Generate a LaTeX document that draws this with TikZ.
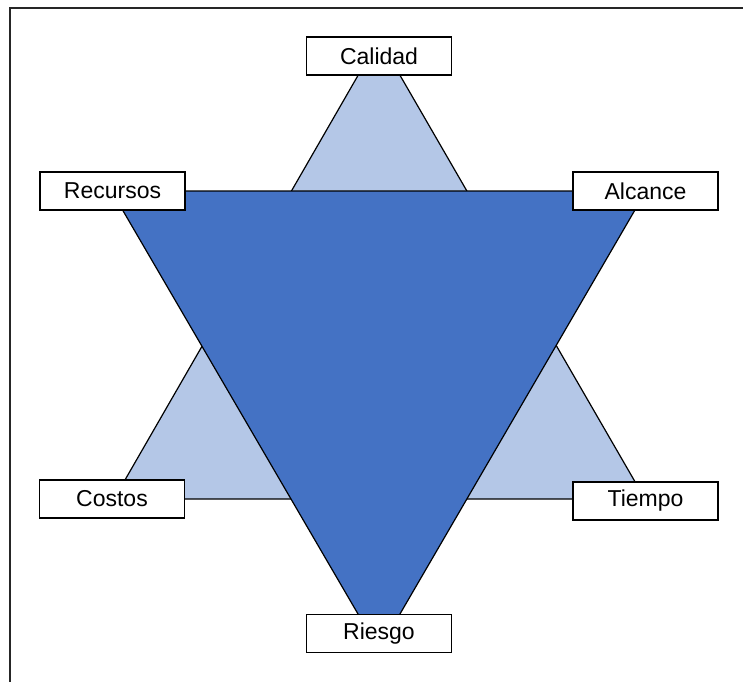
\documentclass[tikz,border=0pt]{standalone}
\usepackage{fontspec}
\setmainfont{Liberation Sans}
\definecolor{trilight}{HTML}{B4C7E7}
\definecolor{tridark}{HTML}{4472C4}
\tikzset{
pmbox/.style={rectangle,draw,fill=white,line width=0.7pt,align=center,inner sep=2pt,minimum width=72.5pt,minimum height=19pt,font=\fontsize{11.5}{13}\selectfont},
pmlight/.style={fill=trilight,draw=black,line width=0.6pt},
pmdark/.style={fill=tridark,draw=black,line width=0.6pt},
pmframe/.style={draw=black!85,line width=1.1pt}
}

\begin{document}
\begin{tikzpicture}[
x=0.5pt,
y=-0.5pt
]
\useasboundingbox (0,0) rectangle (743,681);
\draw[pmframe] (10,8) rectangle (760,700);
% triangle corners
\coordinate (up) at (379,39);
\coordinate (upleft) at (114,499);
\coordinate (upright) at (645,499);
\coordinate (downleft) at (111.5,191);
\coordinate (downright) at (646,191);
\coordinate (down) at (379,650);
\filldraw[pmlight] (up)--(upright)--(upleft)--cycle;
\filldraw[pmdark] (downleft)--(downright)--(down)--cycle;
% labels
\node[pmbox] (calidad) at (379,56) {Calidad};
\node[pmbox] (recursos) at (112.5,191) {Recursos};
\node[pmbox] (alcance) at (645.5,191) {Alcance};
\node[pmbox] (costos) at (112,499) {Costos};
\node[pmbox] (tiempo) at (645.5,501) {Tiempo};
\node[pmbox] (riesgo) at (379,633.5) {Riesgo};
\end{tikzpicture}
\end{document}
